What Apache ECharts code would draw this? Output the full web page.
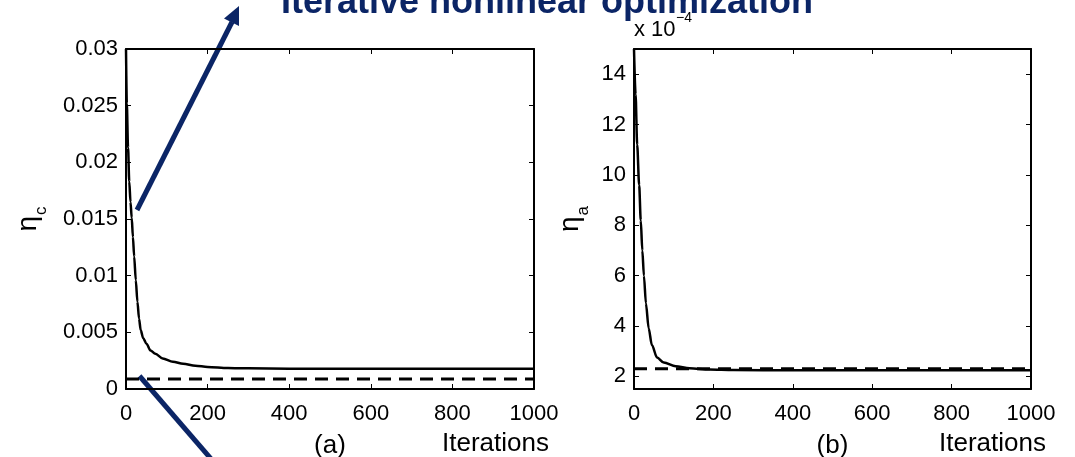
<!DOCTYPE html>
<html>
<head>
<meta charset="utf-8">
<title>eta convergence</title>
<script src="https://cdn.jsdelivr.net/npm/echarts@6/dist/echarts.min.js"></script>
<style>
html, body { margin: 0; padding: 0; background: #fff; }
#chart { width: 1075px; height: 457px; }
</style>
</head>
<body>
<div id="chart"></div>
<script>
// (a) eta_c against iterations
const iterC = [0, 2, 5, 8, 11, 14, 17, 20, 24, 28, 32, 36, 42, 50, 60, 72, 90, 115, 140, 170, 200, 250, 300, 400, 500, 600, 700, 800, 900, 1000];
const etaC = [0.0300, 0.0252, 0.0213, 0.0183, 0.0165, 0.0151, 0.0134, 0.0117, 0.0096, 0.0077, 0.0062, 0.0052, 0.0045, 0.0040, 0.0034, 0.0031, 0.0027, 0.0024, 0.00222, 0.00205, 0.00195, 0.00186, 0.00182, 0.00179, 0.00178, 0.00178, 0.00178, 0.00178, 0.00178, 0.00178];
const refIterC = [0, 1000];
const refC = [0.00088, 0.00088];

// (b) eta_a against iterations, in units of 1e-4
const iterA = [0, 4, 8, 13, 17, 21, 25, 30, 37, 45, 58, 75, 105, 140, 190, 250, 400, 600, 800, 1000];
const etaA = [15.0, 13.2, 11.2, 9.6, 8.2, 7.0, 6.0, 4.9, 3.9, 3.25, 2.75, 2.55, 2.4, 2.32, 2.27, 2.25, 2.24, 2.24, 2.24, 2.24];
const refIterA = [0, 1000];
const refA = [2.3, 2.3];

const aTicks = [2, 4, 6, 8, 10, 12, 14];

const FONT = 'Liberation Sans';
const NAVY = '#0b2566';

function pairs(xs, ys) {
	return xs.map((x, i) => [x, ys[i]]);
}

// fresh objects for every axis; onZero off so the box axes stay on their own side
function line() {
	return { show: true, onZero: false, lineStyle: { color: '#000', width: 2 } };
}
function tick(extra) {
	return Object.assign({ show: true, inside: true, length: 5, lineStyle: { color: '#000', width: 1 } }, extra);
}
function label(extra) {
	return Object.assign({ color: '#000', fontSize: 22, fontFamily: FONT, formatter: (v) => String(v) }, extra);
}
function etaRich() {
	return {
		e: { fontSize: 28, fontFamily: FONT, color: '#000', lineHeight: 28, verticalAlign: 'top' },
		s: { fontSize: 17, fontFamily: FONT, color: '#000', lineHeight: 17, verticalAlign: 'top', padding: [19, 0, 0, 1] },
	};
}

function xAxes(grid, name) {
	return [
		{
			gridIndex: grid, type: 'value', min: 0, max: 1000, interval: 200, position: 'bottom',
			axisLine: line(), axisTick: tick(), splitLine: { show: false },
			axisLabel: label({ margin: 14 }),
			name, nameLocation: 'middle', nameGap: 44,
			nameTextStyle: { fontSize: 26, fontFamily: FONT, color: '#000' },
		},
		{
			gridIndex: grid, type: 'value', min: 0, max: 1000, interval: 200, position: 'top',
			axisLine: line(), axisTick: tick(), splitLine: { show: false }, axisLabel: { show: false },
		},
	];
}

const option = {
	animation: false,
	backgroundColor: '#fff',
	grid: [
		{ left: 126, top: 49, width: 408, height: 340, outerBoundsMode: 'none' },
		{ left: 634, top: 49, width: 397, height: 340, outerBoundsMode: 'none' },
	],
	xAxis: xAxes(0, '(a)').concat(xAxes(1, '(b)')),
	yAxis: [
		{
			gridIndex: 0, type: 'value', min: 0, max: 0.03, interval: 0.005, position: 'left',
			axisLine: line(), axisTick: tick(), splitLine: { show: false },
			axisLabel: label({ margin: 8 }),
			name: '{e|η}{s|c}', nameLocation: 'middle', nameRotate: 90, nameGap: 84,
			nameTextStyle: { rich: etaRich() },
		},
		{
			gridIndex: 0, type: 'value', min: 0, max: 0.03, interval: 0.005, position: 'right',
			axisLine: line(), axisTick: tick(), splitLine: { show: false }, axisLabel: { show: false },
		},
		{
			gridIndex: 1, type: 'value', min: 1.5, max: 15, position: 'left',
			axisLine: line(), axisTick: tick({ customValues: aTicks }), splitLine: { show: false },
			axisLabel: label({ margin: 8, customValues: aTicks }),
			name: '{e|η}{s|a}', nameLocation: 'middle', nameRotate: 90, nameGap: 50,
			nameTextStyle: { rich: etaRich() },
		},
		{
			gridIndex: 1, type: 'value', min: 1.5, max: 15, position: 'right',
			axisLine: line(), axisTick: tick({ customValues: aTicks }), splitLine: { show: false },
			axisLabel: { show: false },
		},
	],
	series: [
		{
			type: 'line', xAxisIndex: 0, yAxisIndex: 0, data: pairs(iterC, etaC),
			smooth: 0.3, smoothMonotone: 'x', showSymbol: false, symbol: 'none',
			lineStyle: { color: '#000', width: 2.5 },
		},
		{
			type: 'line', xAxisIndex: 0, yAxisIndex: 0, data: pairs(refIterC, refC),
			showSymbol: false, symbol: 'none',
			lineStyle: { color: '#000', width: 3, type: [13, 8] },
		},
		{
			type: 'line', xAxisIndex: 2, yAxisIndex: 2, data: pairs(iterA, etaA),
			smooth: 0.3, smoothMonotone: 'x', showSymbol: false, symbol: 'none',
			lineStyle: { color: '#000', width: 2.5 },
		},
		{
			type: 'line', xAxisIndex: 2, yAxisIndex: 2, data: pairs(refIterA, refA),
			showSymbol: false, symbol: 'none',
			lineStyle: { color: '#000', width: 3, type: [13, 8] },
		},
	],
	graphic: [
		// heading, cut off at the top edge
		{
			type: 'text', left: 281, top: -15,
			style: { text: 'Iterative nonlinear optimization', fill: NAVY, font: 'bold 36px "Liberation Sans"' },
		},
		{
			type: 'text', left: 442, top: 431,
			style: { text: 'Iterations', fill: '#000', font: '26px "Liberation Sans"' },
		},
		{
			type: 'text', left: 939, top: 431,
			style: { text: 'Iterations', fill: '#000', font: '26px "Liberation Sans"' },
		},
		{
			type: 'text', left: 634, top: 19,
			style: { text: 'x 10', fill: '#000', font: '22px "Liberation Sans"' },
		},
		{
			type: 'text', left: 676, top: 11,
			style: { text: '−4', fill: '#000', font: '14px "Liberation Sans"' },
		},
		// annotation arrows
		{
			type: 'line', shape: { x1: 137, y1: 210, x2: 232, y2: 22 },
			style: { stroke: NAVY, lineWidth: 5 },
		},
		{
			type: 'polygon', shape: { points: [[239, 6], [224, 18.5], [239, 26]] },
			style: { fill: NAVY },
		},
		{
			type: 'line', shape: { x1: 139.5, y1: 376, x2: 212, y2: 460 },
			style: { stroke: NAVY, lineWidth: 5 },
		},
	],
};

const chart = echarts.init(document.getElementById('chart'), null, { renderer: 'canvas' });
chart.setOption(option);
</script>
</body>
</html>
